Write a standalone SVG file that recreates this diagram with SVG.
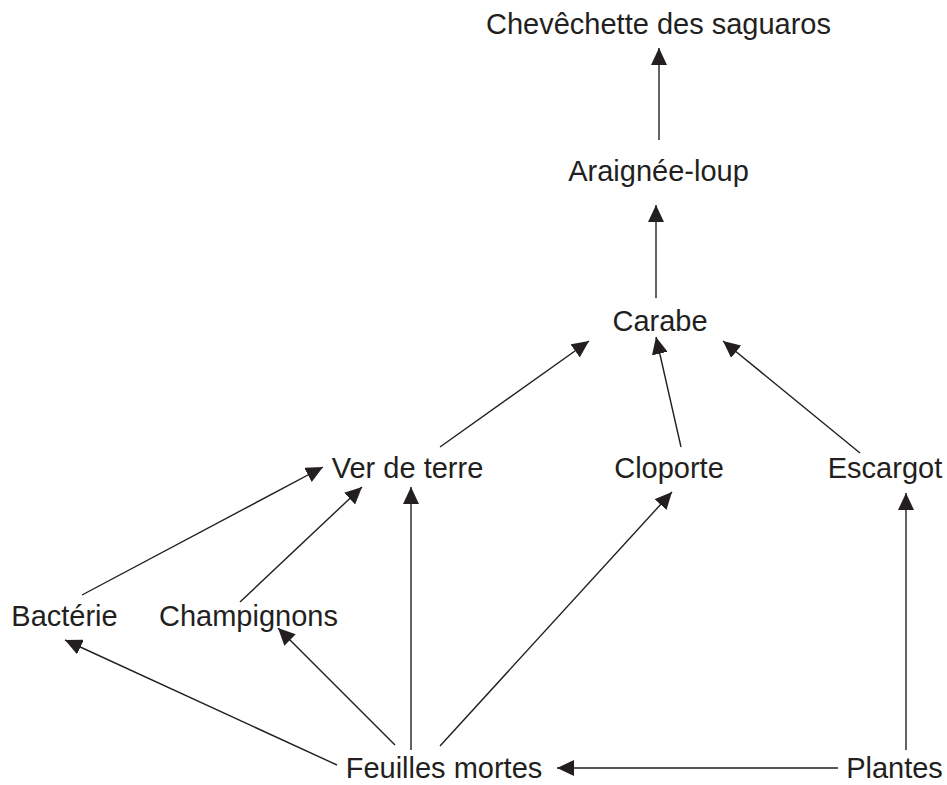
<svg xmlns="http://www.w3.org/2000/svg" width="947" height="785" viewBox="0 0 947 785">
<style>
text{font-family:"Liberation Sans",Arial,sans-serif;font-size:29px;fill:#231f20;text-anchor:middle}
.c line{stroke:#231f20;stroke-width:1.4;fill:none;marker-end:url(#ah)}
</style>
<defs>
<marker id="ah" viewBox="0 0 17 16" refX="17" refY="8" markerWidth="17" markerHeight="16" markerUnits="userSpaceOnUse" orient="auto">
<path d="M0,0 L17,8 L0,16 Z" fill="#231f20"/>
</marker>
</defs>
<rect width="947" height="785" fill="#fff"/>
<g class="c" id="connectors">
<line x1="659" y1="140" x2="659" y2="48"/>
<line x1="656" y1="298" x2="656" y2="205"/>
<line x1="440" y1="447" x2="589" y2="341"/>
<line x1="681" y1="447" x2="656" y2="337"/>
<line x1="860" y1="453" x2="723" y2="341"/>
<line x1="906" y1="750" x2="906" y2="493"/>
<line x1="838" y1="768" x2="557" y2="768"/>
<line x1="337" y1="765" x2="65" y2="640"/>
<line x1="395" y1="745" x2="278" y2="628"/>
<line x1="411" y1="750" x2="411" y2="487"/>
<line x1="440" y1="746" x2="672" y2="492"/>
<line x1="82" y1="595" x2="323" y2="467"/>
<line x1="240" y1="602" x2="362" y2="487"/>
</g>
<g id="chevechette"><text x="658.5" y="34">Chevêchette des saguaros</text></g>
<g id="araignee"><text x="658.5" y="181">Araignée-loup</text></g>
<g id="carabe"><text x="660" y="331">Carabe</text></g>
<g id="ver"><text x="407.5" y="478">Ver de terre</text></g>
<g id="cloporte"><text x="669" y="478">Cloporte</text></g>
<g id="escargot"><text x="885" y="478">Escargot</text></g>
<g id="bacterie"><text x="64.5" y="626">Bactérie</text></g>
<g id="champignons"><text x="248.5" y="626">Champignons</text></g>
<g id="feuilles"><text x="444" y="778">Feuilles mortes</text></g>
<g id="plantes"><text x="894.5" y="778">Plantes</text></g>
</svg>
